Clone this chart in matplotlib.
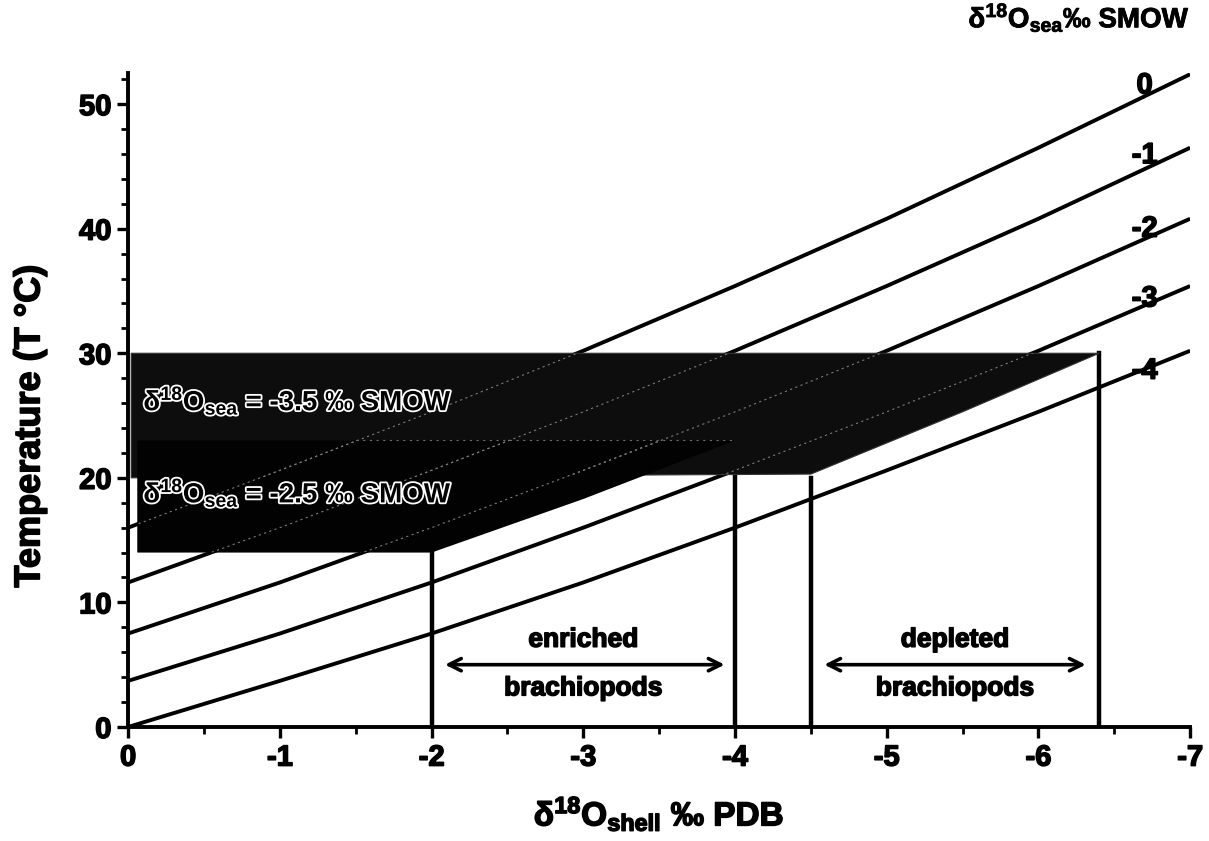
import matplotlib
matplotlib.use("Agg")
import matplotlib.pyplot as plt
from matplotlib.patches import Polygon
import matplotlib.patheffects as pe

plt.rcParams['font.family'] = ['Liberation Sans', 'DejaVu Sans']
plt.rcParams['font.weight'] = 'bold'
plt.rcParams['axes.unicode_minus'] = False
plt.rcParams['mathtext.fontset'] = 'custom'
plt.rcParams['mathtext.rm'] = 'Liberation Sans:bold'
plt.rcParams['mathtext.it'] = 'Liberation Sans:bold'
plt.rcParams['mathtext.bf'] = 'Liberation Sans:bold'
plt.rcParams['mathtext.default'] = 'rm'

# d18O shell (PDB) where the curves were read
shell_x = [0, -1, -2, -3, -4, -5, -6, -7]

# temperature for each d18O sea value (SMOW)
temp_sea0 = [16.0, 20.6, 25.3, 30.2, 35.4, 40.8, 46.5, 52.4]
temp_sea1 = [11.6, 16.0, 20.6, 25.3, 30.2, 35.4, 40.8, 46.5]
temp_sea2 = [7.5, 11.6, 16.0, 20.6, 25.3, 30.2, 35.4, 40.8]
temp_sea3 = [3.7, 7.5, 11.6, 16.0, 20.6, 25.3, 30.2, 35.4]
temp_sea4 = [0.0, 3.7, 7.5, 11.6, 16.0, 20.6, 25.3, 30.2]
curves = [temp_sea0, temp_sea1, temp_sea2, temp_sea3, temp_sea4]
curve_labels = ['0', '-1', '-2', '-3', '-4']
label_y = [51.5, 45.9, 40.0, 34.4, 28.6]

# shaded fields
sea35_x = [-0.02, -0.02, -6.4, -5.5, -4.5, -0.02]
sea35_y = [20, 30, 30, 25.3, 20.3, 20]
sea25_x = [-0.06, -2.0, -3.0, -4.0, -0.06]
sea25_y = [14, 14, 18.3, 23, 23]

# vertical limits
vert_x = [-2, -4, -4.5, -6.4]
vert_top = [14, 23, 20, 30]

heavy = [pe.withStroke(linewidth=1.1, foreground='black')]

fig = plt.figure(figsize=(12.09, 8.41), dpi=100)
ax = fig.add_axes([0.106, 0.1356, 0.8784, 0.7776])

for t in curves:
    ax.plot(shell_x, t, color='black', lw=2.8, zorder=2, solid_capstyle='butt')

for vx, vt in zip(vert_x, vert_top):
    ax.plot([vx, vx], [0, vt], color='black', lw=3.2, zorder=2)

pa = Polygon(list(zip(sea35_x, sea35_y)), closed=True, facecolor='#0d0d0d',
             edgecolor='#333333', lw=0.8, zorder=3)
pb = Polygon(list(zip(sea25_x, sea25_y)), closed=True, facecolor='#020202',
             edgecolor='none', zorder=3)
ax.add_patch(pa)
ax.add_patch(pb)

# faint traces of the curves inside the shaded fields
for t in curves:
    for p in (pa, pb):
        l, = ax.plot(shell_x, t, color='#7a7a7a', lw=0.8, ls=(0, (2, 3)), zorder=4)
        l.set_clip_path(p)
ax.plot([-1.5, -4.0], [23, 23], color='#6a6a6a', lw=0.8, ls=(0, (2, 4)), zorder=4)

halo = [pe.withStroke(linewidth=2.6, foreground='white')]
ax.text(-0.1, 26.2, r'δ$^{18}$O$_{sea}$ = -3.5 ‰ SMOW', fontsize=20,
        color='black', va='center', zorder=5, path_effects=halo)
ax.text(-0.1, 18.8, r'δ$^{18}$O$_{sea}$ = -2.5 ‰ SMOW', fontsize=20,
        color='black', va='center', zorder=5, path_effects=halo)

for lab, ly in zip(curve_labels, label_y):
    ax.text(-6.7, ly, lab, fontsize=21, ha='center', va='center', zorder=5,
            path_effects=heavy)

ax.annotate('', xy=(-2.07, 5), xytext=(-3.95, 5),
            arrowprops=dict(arrowstyle='<->', lw=2.6, color='black', mutation_scale=22))
ax.annotate('', xy=(-4.57, 5), xytext=(-6.33, 5),
            arrowprops=dict(arrowstyle='<->', lw=2.6, color='black', mutation_scale=22))
for tx, word in [(-3.0, 'enriched'), (-5.45, 'depleted')]:
    ax.text(tx, 7.0, word, fontsize=19, ha='center', va='center', path_effects=heavy)
    ax.text(tx, 3.1, 'brachiopods', fontsize=19, ha='center', va='center',
            path_effects=heavy)

ax.set_xlim(0, -7)
ax.set_ylim(0, 52.5)
ax.set_xticks([0, -1, -2, -3, -4, -5, -6, -7])
ax.set_xticks([-0.5, -1.5, -2.5, -3.5, -4.5, -5.5, -6.5], minor=True)
ax.set_yticks([0, 10, 20, 30, 40, 50])
ax.set_yticks([2, 4, 6, 8, 12, 14, 16, 18, 22, 24, 26, 28, 32, 34, 36, 38,
               42, 44, 46, 48, 52], minor=True)
ax.tick_params(which='major', direction='out', length=8, width=2.4, labelsize=21, pad=4)
ax.tick_params(which='minor', direction='out', length=5, width=2.0)
for lab in ax.get_xticklabels() + ax.get_yticklabels():
    lab.set_fontweight('bold')
    lab.set_path_effects(heavy)

for s in ['top', 'right']:
    ax.spines[s].set_visible(False)
for s in ['left', 'bottom']:
    ax.spines[s].set_linewidth(2.8)

ax.set_ylabel('Temperature (T °C)', fontsize=26, fontweight='bold', path_effects=heavy)
ax.yaxis.set_label_coords(-0.076, 0.46)
ax.set_xlabel(r'δ$^{18}$O$_{shell}$ ‰ PDB', fontsize=24, fontweight='bold', labelpad=16,
              path_effects=heavy)

fig.text(0.984, 0.979, r'δ$^{18}$O$_{sea}$‰ SMOW', fontsize=20, fontweight='bold',
         ha='right', va='center', path_effects=[pe.withStroke(linewidth=0.6, foreground='black')])

fig.savefig('out.png', dpi=100)
